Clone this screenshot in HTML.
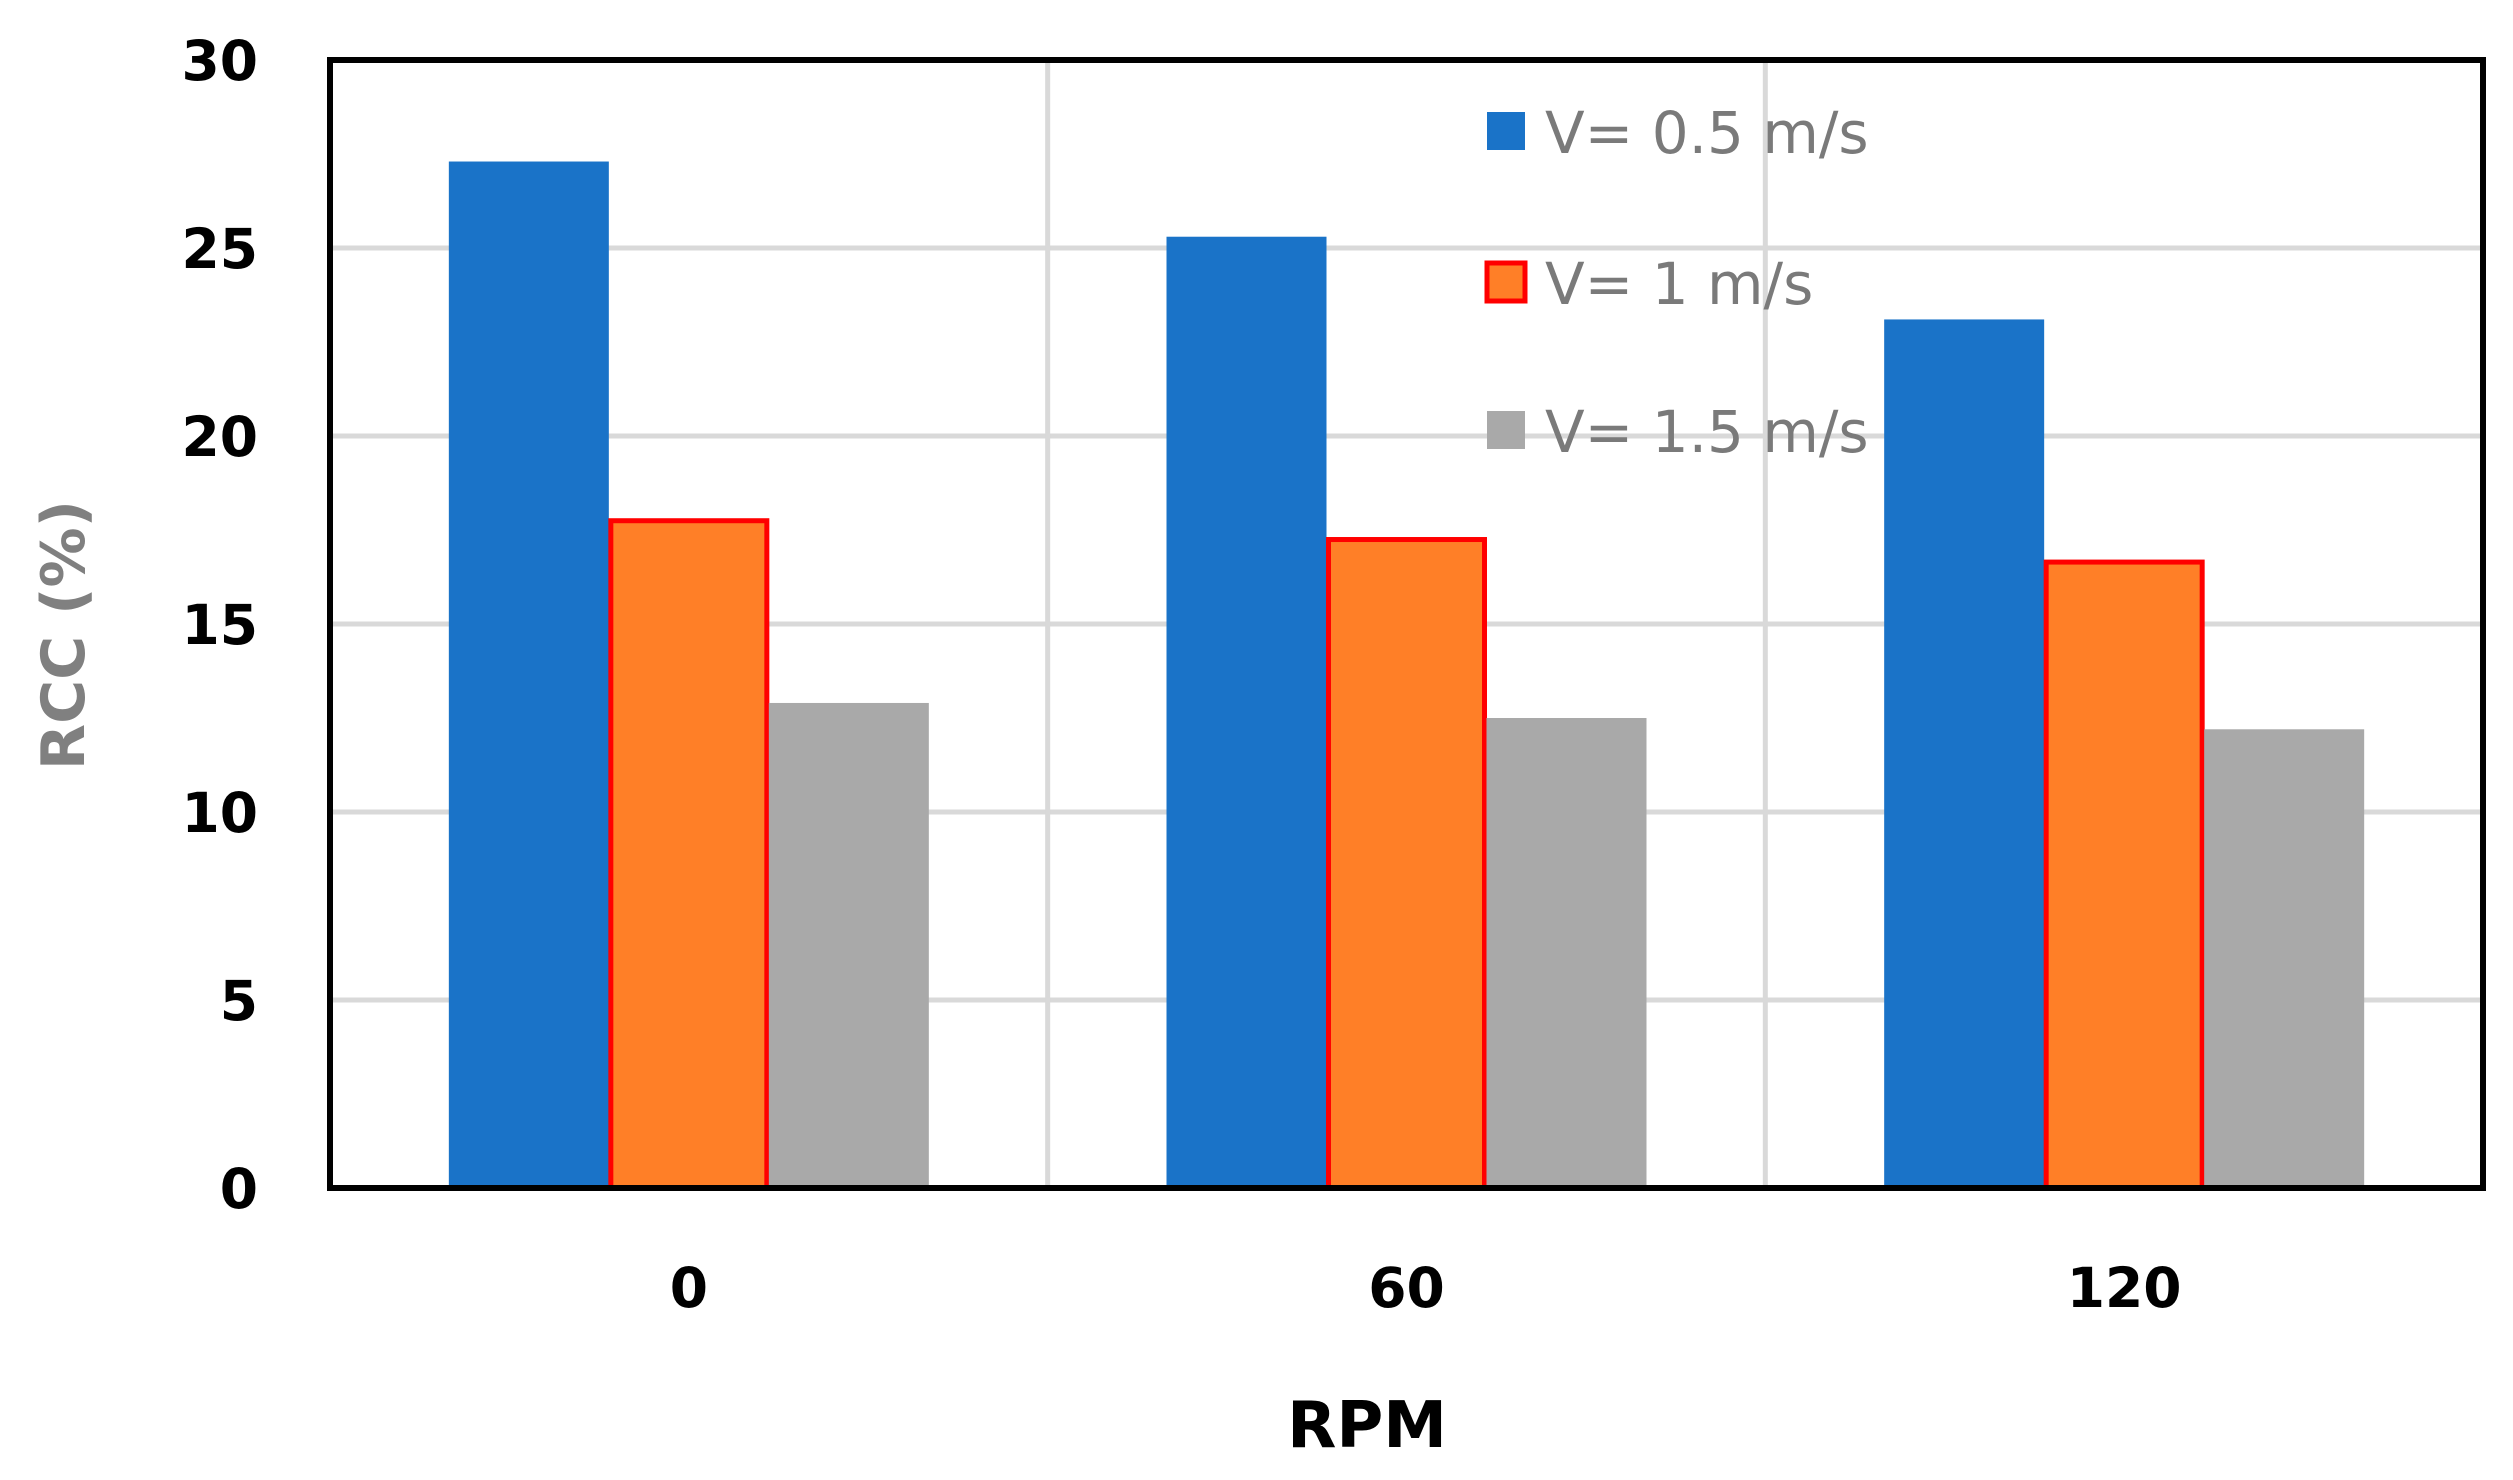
<!DOCTYPE html>
<html><head><meta charset="utf-8"><style>
html,body{margin:0;padding:0;background:#fff;}
svg{display:block;font-family:"DejaVu Sans","Liberation Sans",sans-serif;}
</style></head><body>
<svg id="chart" width="2513" height="1480" viewBox="0 0 2513 1480" xmlns="http://www.w3.org/2000/svg">
<g id="grid"></g>
<g id="bars"></g>
<rect x="330" y="60" width="2153" height="1128" fill="none" stroke="#000" stroke-width="6"/>
<g id="yticks" font-weight="bold" font-size="55" text-anchor="end"></g>
<g id="xticks" font-weight="bold" font-size="55" text-anchor="middle"></g>
<text transform="translate(84,635) rotate(-90)" text-anchor="middle" font-size="60" font-weight="bold" fill="#808080">RCC (%)</text>
<text x="1367" y="1447" text-anchor="middle" font-size="64" font-weight="bold" fill="#000">RPM</text>
<g id="legend"></g>
</svg>
<script>
const categories = ["0","60","120"];
const seriesNames = ["V= 0.5 m/s","V= 1 m/s","V= 1.5 m/s"];
const v05 = [27.3, 25.3, 23.1];
const v1 = [17.8, 17.3, 16.7];
const v15 = [12.9, 12.5, 12.2];
const yTicks = [0,5,10,15,20,25,30];

const NS="http://www.w3.org/2000/svg";
const L=330,R=2483,T=60,B=1188,yMax=30;
const y=v=>B-(v/yMax)*(B-T);
const gw=(R-L)/categories.length;
const xc=i=>L+gw*(i+0.5);
const bw=160;
function mk(tag,attrs,parent){const e=document.createElementNS(NS,tag);for(const k in attrs)e.setAttribute(k,attrs[k]);parent.appendChild(e);return e;}
const grid=document.getElementById('grid'),bars=document.getElementById('bars');
yTicks.forEach(t=>{
  if(t>0&&t<yMax){const l=mk('line',{x1:L,x2:R,y1:y(t),y2:y(t),stroke:'#d9d9d9','stroke-width':5},grid);
  
  }
  const tx=mk('text',{x:258,y:y(t)+20},document.getElementById('yticks'));
  tx.textContent=t;
  
  
});
for(let i=1;i<categories.length;i++){
  const l=mk('line',{x1:L+gw*i,x2:L+gw*i,y1:T,y2:B,stroke:'#d9d9d9','stroke-width':5},grid);
  
  
}
const series=[v05,v1,v15];
const fills=['#1a73c8','#ff7f27','#a9a9a9'];
categories.forEach((c,i)=>{
  series.forEach((s,j)=>{
    const x0=xc(i)-1.5*bw+j*bw;
    const attrs={x:x0,y:y(s[i]),width:bw,height:B-y(s[i]),fill:fills[j]};
    if(j===1){attrs.stroke='#ff0000';attrs['stroke-width']=5;attrs.x=x0+2;attrs.width=bw-4;attrs.y=y(s[i])+2;attrs.height=B-y(s[i])-2;}
    const r=mk('rect',attrs,bars);
    
    
  });
  const tx=mk('text',{x:xc(i),y:1307},document.getElementById('xticks'));
  tx.textContent=c;
  
  
});
const lg=document.getElementById('legend');
const ly=[132,283,431];
seriesNames.forEach((n,j)=>{
  const a={x:1487,y:ly[j]-20,width:38,height:38,fill:fills[j]};
  if(j===1){a.stroke='#ff0000';a['stroke-width']=5;}
  const r=mk('rect',a,lg);
  
  
  const t=mk('text',{x:1545,y:ly[j]+21,'font-size':58,fill:'#7a7a7a'},lg);
  t.textContent=n;
  
  
});
</script>
</body></html>
